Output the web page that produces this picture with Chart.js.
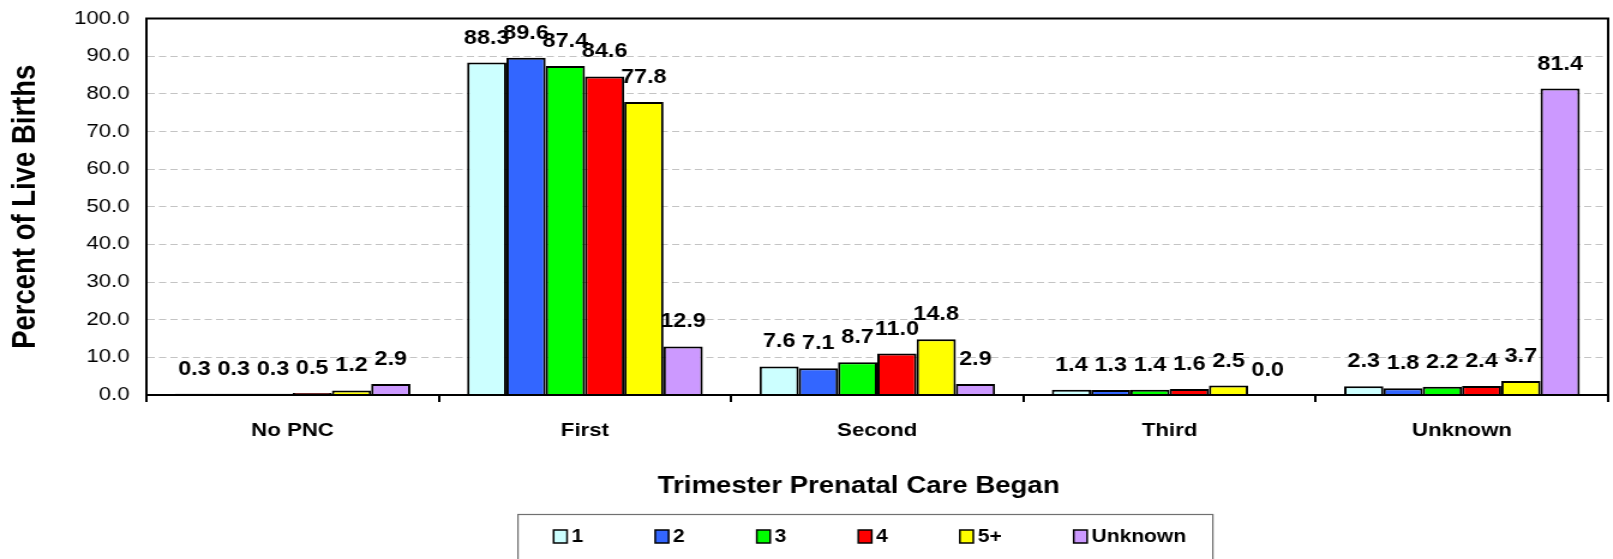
<!DOCTYPE html>
<html>
<head>
<meta charset="utf-8">
<script src="https://cdn.jsdelivr.net/npm/chart.js@4.4.1/dist/chart.umd.min.js"></script>
<style>
  html, body { margin: 0; padding: 0; background: #fff; overflow: hidden; }
  /* the reference picture is stretched sideways, so the canvas is too */
  #wrap { width: 1344px; height: 559px; transform: scaleX(1.2001); transform-origin: 0 0; }
</style>
</head>
<body>
<div id="wrap"><canvas id="pncChart" width="1344" height="559"></canvas></div>
<script>
const categories = ['No PNC', 'First', 'Second', 'Third', 'Unknown'];
const seriesNames = ['1', '2', '3', '4', '5+', 'Unknown'];
const seriesColors = ['#CCFFFF', '#3366FF', '#00FF00', '#FF0000', '#FFFF00', '#CC99FF'];

const values1 = [0.3, 88.3, 7.6, 1.4, 2.3];
const values2 = [0.3, 89.6, 7.1, 1.3, 1.8];
const values3 = [0.3, 87.4, 8.7, 1.4, 2.2];
const values4 = [0.5, 84.6, 11.0, 1.6, 2.4];
const values5plus = [1.2, 77.8, 14.8, 2.5, 3.7];
const valuesUnknown = [2.9, 12.9, 2.9, 0.0, 81.4];

const yTicks = [0, 10, 20, 30, 40, 50, 60, 70, 80, 90, 100];

const xTitle = 'Trimester Prenatal Care Began';
const yTitle = 'Percent of Live Births';

const FONT = "'Liberation Sans', Arial, Helvetica, sans-serif";
const allValues = [values1, values2, values3, values4, values5plus, valuesUnknown];

// black frame round the plot area
const framePlugin = {
    id: 'frame',
    afterDraw(chart) {
        const a = chart.chartArea;
        const ctx = chart.ctx;
        ctx.save();
        ctx.strokeStyle = '#000';
        ctx.lineWidth = 2;
        ctx.strokeRect(a.left, a.top, a.right - a.left, a.bottom - a.top);
        ctx.restore();
    }
};

// value labels above each bar
const valueLabels = {
    id: 'valueLabels',
    afterDatasetsDraw(chart) {
        const ctx = chart.ctx;
        ctx.save();
        ctx.font = 'bold 19.5px ' + FONT;
        ctx.fillStyle = '#000';
        ctx.textAlign = 'center';
        ctx.textBaseline = 'alphabetic';
        chart.data.datasets.forEach((ds, i) => {
            chart.getDatasetMeta(i).data.forEach((bar, j) => {
                ctx.fillText(ds.data[j].toFixed(1), bar.x, bar.y - 19);
            });
        });
        ctx.restore();
    }
};

// x axis title, a bit left of the plot centre like the original
const xTitlePlugin = {
    id: 'xTitle',
    afterDraw(chart) {
        const a = chart.chartArea;
        const ctx = chart.ctx;
        ctx.save();
        ctx.font = 'bold 23px ' + FONT;
        ctx.fillStyle = '#000';
        ctx.textAlign = 'center';
        ctx.textBaseline = 'middle';
        ctx.fillText(xTitle, (a.left + a.right) / 2 - 15.5, 487);
        ctx.restore();
    }
};

// boxed legend like the Excel one
const boxLegend = {
    id: 'boxLegend',
    afterDraw(chart) {
        const ctx = chart.ctx;
        const left = 431.6, top = 514.5, width = 579, height = 50;
        const midY = 536.5;
        const bw = 11.2, bh = 13;
        ctx.save();
        ctx.strokeStyle = '#707070';
        ctx.lineWidth = 1.2;
        ctx.strokeRect(left, top, width, height);

        ctx.font = 'bold 17.5px ' + FONT;
        ctx.textBaseline = 'middle';
        ctx.textAlign = 'left';
        let x = left + 29.7;
        chart.data.datasets.forEach(ds => {
            ctx.fillStyle = ds.backgroundColor;
            ctx.fillRect(x, midY - bh / 2, bw, bh);
            ctx.strokeStyle = '#000';
            ctx.lineWidth = 1.5;
            ctx.strokeRect(x, midY - bh / 2, bw, bh);
            ctx.fillStyle = '#000';
            const tx = x + bw + 3.7;
            ctx.fillText(ds.label, tx, midY + 0.5);
            x = tx + ctx.measureText(ds.label).width + 60;
        });
        ctx.restore();
    }
};

const ctx = document.getElementById('pncChart').getContext('2d');
new Chart(ctx, {
    type: 'bar',
    data: {
        labels: categories,
        datasets: seriesNames.map((name, i) => ({
            label: name,
            data: allValues[i],
            backgroundColor: seriesColors[i],
            borderColor: '#000',
            borderWidth: 2,
            categoryPercentage: 0.806,
            barPercentage: 1.0
        }))
    },
    options: {
        responsive: false,
        animation: false,
        devicePixelRatio: 1,
        layout: { padding: { top: 18.5, right: 4, bottom: 59, left: 0 } },
        plugins: {
            legend: { display: false },
            tooltip: { enabled: false }
        },
        scales: {
            x: {
                afterFit: s => { s.height = 105; },
                grid: {
                    offset: true,
                    drawOnChartArea: false,
                    drawTicks: true,
                    tickLength: 7,
                    color: '#000',
                    lineWidth: 2
                },
                border: { display: true, color: '#000', width: 2 },
                ticks: {
                    color: '#000',
                    padding: 18,
                    font: { family: FONT, size: 18.5, weight: 'bold' }
                },
                title: { display: false }
            },
            y: {
                min: 0,
                max: 100,
                afterFit: s => {
                    s.width = 122;
                    s.paddingTop = 0;
                    s.paddingBottom = 0;
                },
                afterBuildTicks: s => { s.ticks = yTicks.map(v => ({ value: v })); },
                grid: {
                    color: '#c4c4c4',
                    lineWidth: 1,
                    drawTicks: false
                },
                border: { display: true, color: '#000', width: 2, dash: [6, 3.5] },
                ticks: {
                    color: '#000',
                    padding: 14,
                    font: { family: FONT, size: 18.5 },
                    callback: v => v.toFixed(1)
                },
                title: {
                    display: true,
                    text: yTitle,
                    color: '#000',
                    padding: { top: 5, bottom: 0 },
                    font: { family: FONT, size: 27.5, weight: 'bold' }
                }
            }
        }
    },
    plugins: [framePlugin, valueLabels, xTitlePlugin, boxLegend]
});
</script>
</body>
</html>
